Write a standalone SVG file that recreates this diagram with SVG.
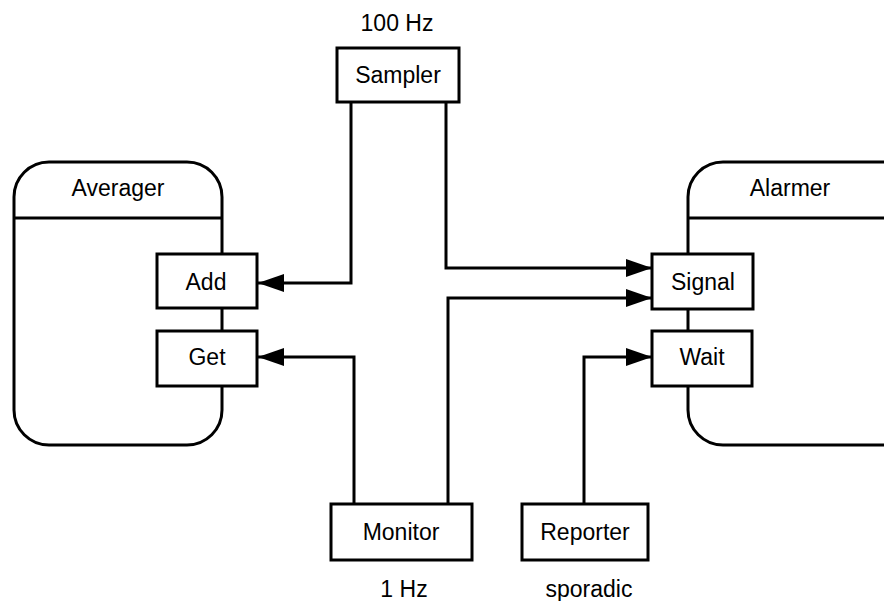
<svg xmlns="http://www.w3.org/2000/svg" width="884" height="601" viewBox="0 0 884 601">
<style>
.box{fill:#fff;stroke:#000;stroke-width:3}
.cont{fill:#fff;stroke:#000;stroke-width:3}
.ln{fill:none;stroke:#000;stroke-width:3}
text{font-family:"Liberation Sans",Arial,sans-serif;font-size:23px;fill:#000;text-anchor:middle}
</style>
<defs>
<marker id="ah" markerUnits="userSpaceOnUse" markerWidth="26" markerHeight="18" refX="26" refY="9" orient="auto">
<path d="M0,0 L26,9 L0,18 Z" fill="#000"/>
</marker>
</defs>
<g id="averager">
<rect class="cont" x="14" y="162" width="208" height="283" rx="35"/>
<line class="ln" x1="14" y1="218" x2="222" y2="218"/>
<text x="118" y="196">Averager</text>
</g>
<g id="alarmer">
<rect class="cont" x="688" y="162" width="240" height="283" rx="35"/>
<line class="ln" x1="688" y1="218" x2="884" y2="218"/>
<text x="790" y="196">Alarmer</text>
</g>
<g id="connectors">
<polyline class="ln" points="351,102 351,283 258,283" marker-end="url(#ah)"/>
<polyline class="ln" points="446,102 446,268 652,268" marker-end="url(#ah)"/>
<polyline class="ln" points="448,504 448,298 652,298" marker-end="url(#ah)"/>
<polyline class="ln" points="354,504 354,357 258,357" marker-end="url(#ah)"/>
<polyline class="ln" points="584,504 584,357 652,357" marker-end="url(#ah)"/>
</g>
<g id="add"><rect class="box" x="157" y="254" width="100" height="54"/><text x="206" y="290">Add</text></g>
<g id="get"><rect class="box" x="157" y="331" width="100" height="55"/><text x="207" y="365">Get</text></g>
<g id="signal"><rect class="box" x="652" y="254" width="101" height="55"/><text x="703" y="290">Signal</text></g>
<g id="wait"><rect class="box" x="652" y="331" width="100" height="55"/><text x="702" y="365">Wait</text></g>
<g id="sampler"><rect class="box" x="337" y="48" width="122" height="54"/><text x="398" y="83">Sampler</text><text x="397" y="31">100 Hz</text></g>
<g id="monitor"><rect class="box" x="331" y="504" width="141" height="56"/><text x="401" y="540">Monitor</text><text x="404" y="597">1 Hz</text></g>
<g id="reporter"><rect class="box" x="522" y="504" width="126" height="56"/><text x="585" y="540">Reporter</text><text x="589" y="597">sporadic</text></g>
</svg>
